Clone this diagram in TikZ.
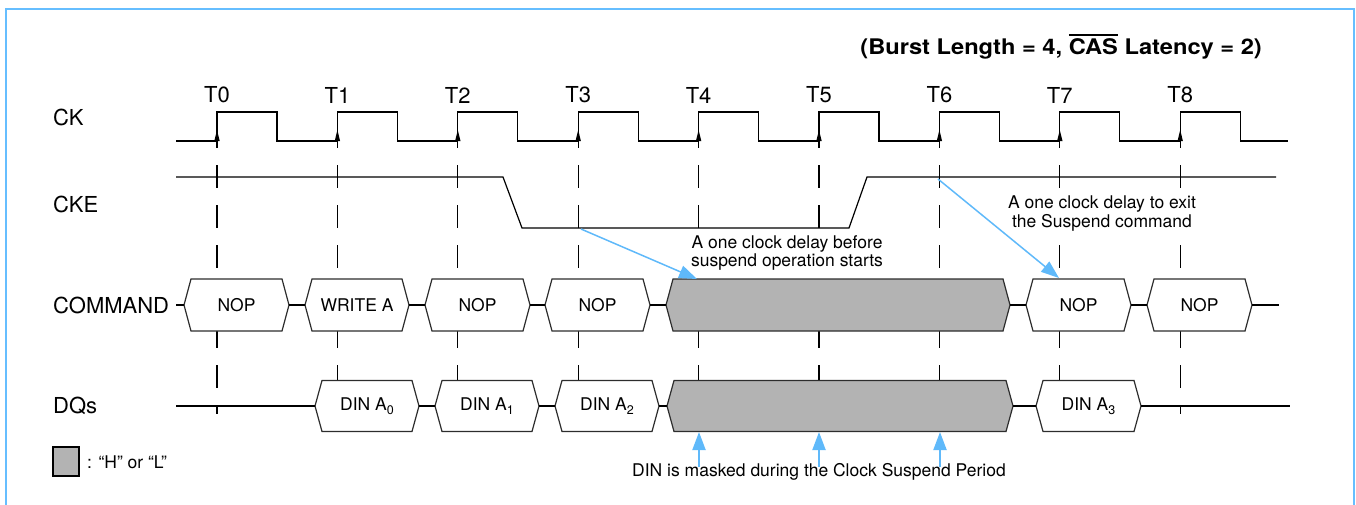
\documentclass[tikz,border=0pt]{standalone}
\usepackage{fontspec}
\setmainfont{TeX Gyre Heros}
\newfontfamily\widefont[FakeStretch=1.1]{TeX Gyre Heros}
\usetikzlibrary{arrows.meta}
\definecolor{framecol}{RGB}{102,190,255}
\definecolor{notecol}{RGB}{95,185,250}
\definecolor{maskgray}{RGB}{179,179,179}
\definecolor{edgecol}{RGB}{45,45,45}
% name, left tip, right tip, centre y, half height, style, text
\newcommand{\busbox}[7]{%
  \path[#6] (#2,#4) -- ({#2+7},{#4-#5}) -- ({#3-7},{#4-#5}) -- (#3,#4)
     -- ({#3-7},{#4+#5}) -- ({#2+7},{#4+#5}) -- cycle;
  \coordinate (#1-l) at (#2,#4);
  \coordinate (#1-r) at (#3,#4);
  \node[boxtext] (#1) at ({(#2+#3)/2},#4) {#7};
}
\newcommand{\dsub}[1]{\raisebox{-4.5pt}{\fontsize{12.5}{13}\selectfont #1}}
\newcommand{\ovl}[1]{\vbox{\hrule height 2pt\kern 2.5pt\hbox{#1}}}
\begin{document}
\begin{tikzpicture}[x=1pt, y=-1pt,
  sig/.style={line width=1.2pt, black},
  guide/.style={line width=1.2pt, black, dash pattern=on 23pt off 17pt},
  lbl/.style={anchor=west, inner sep=0pt, font=\fontsize{22}{24}\selectfont},
  tlbl/.style={inner sep=0pt, font=\fontsize{22}{24}\selectfont},
  boxtext/.style={inner sep=0pt, font=\fontsize{17.5}{20}\selectfont},
  cmdbox/.style={draw=edgecol, fill=white, line width=1.2pt, line join=miter},
  maskbox/.style={draw=edgecol, fill=maskgray, line width=1.2pt, line join=miter},
  note/.style={align=center, fill=white, inner sep=1pt, font=\fontsize{17.5}{18.5}\selectfont},
  notearrow/.style={draw=notecol, line width=1.5pt, -{Triangle[length=18pt,width=13pt]}},
]
\useasboundingbox (0,0) rectangle (1356,504);
% frame
\draw[framecol, line width=2.2pt, line join=miter] (6,510) -- (6,9) -- (1354,9) -- (1354,510);

% title
\node[anchor=east, inner sep=0pt, font=\widefont\bfseries\fontsize{21.5}{24}\selectfont] (title) at (1262,47)
  {(Burst Length = 4, \ovl{CAS} Latency = 2)};

% signal labels
\node[lbl] (lck) at (53,117) {CK};
\node[lbl] (lcke) at (53,204) {CKE};
\node[lbl] (lcmd) at (53,305) {COMMAND};
\node[lbl] (ldq) at (53,406) {DQs};

% clock edge guides
\foreach \i in {0,...,8} {
  \coordinate (gt\i) at ({217+120.4*\i},125);
  \coordinate (gb\i) at ({217+120.4*\i},414);
  \draw[guide] (gt\i) -- (gb\i);
  \node[tlbl] (T\i) at ({217+120.4*\i},95) {T\i};
}

% clock
\draw[sig, line join=miter] (176,141)
  \foreach \i in {0,...,8} { -- ({217+120.4*\i},141) -- ++(0,-29) -- ++(60,0) -- ++(0,29) }
  -- (1288,141);
\foreach \i in {0,...,8}
  \fill ({217+120.4*\i},130) -- ({214.3+120.4*\i},141) -- ({219.7+120.4*\i},141) -- cycle;

% CKE
\draw[sig] (176,177) -- (503,177) -- (522,228) -- (849,228) -- (867,177) -- (1276,177);

% COMMAND bus
\coordinate (cstart) at (176,305);
\coordinate (cend) at (1279,305);
\busbox{c0}{184}{289}{305}{26}{cmdbox}{NOP}
\busbox{c1}{305}{409}{305}{26}{cmdbox}{WRITE A}
\busbox{c2}{425}{530}{305}{26}{cmdbox}{NOP}
\busbox{c3}{545}{650}{305}{26}{cmdbox}{NOP}
\busbox{cG}{666}{1010}{305}{26}{maskbox}{}
\busbox{c7}{1026}{1131}{305}{26}{cmdbox}{NOP}
\busbox{c8}{1147}{1252}{305}{26}{cmdbox}{NOP}
\draw[sig] (cstart) -- (c0-l);
\draw[sig] (c0-r) -- (c1-l);
\draw[sig] (c1-r) -- (c2-l);
\draw[sig] (c2-r) -- (c3-l);
\draw[sig] (c3-r) -- (cG-l);
\draw[sig] (cG-r) -- (c7-l);
\draw[sig] (c7-r) -- (c8-l);
\draw[sig] (c8-r) -- (cend);

% DQ bus
\coordinate (dstart) at (176,406);
\coordinate (dknee) at (1021,406);
\coordinate (dend) at (1290,406);
\busbox{d0}{315}{419}{406}{25.5}{cmdbox}{DIN A\dsub{0}}
\busbox{d1}{435}{539}{406}{25.5}{cmdbox}{DIN A\dsub{1}}
\busbox{d2}{555}{659}{406}{25.5}{cmdbox}{DIN A\dsub{2}}
\busbox{dG}{667}{1013}{406}{25.5}{maskbox}{}
\busbox{d3}{1036}{1141}{406}{25.5}{cmdbox}{DIN A\dsub{3}}
\draw[sig] (dstart) -- (d0-l);
\draw[sig] (d0-r) -- (d1-l);
\draw[sig] (d1-r) -- (d2-l);
\draw[sig, line width=2.2pt] (d2-r) -- (dG-l);
\draw[sig, line width=2.2pt] (dG-r) -- (dknee);
\draw[sig] (dknee) -- (d3-l);
\draw[sig] (d3-r) -- (dend);

% annotations
\node[note] (n1) at (787,253) {A one clock delay before\\suspend operation starts};
\coordinate (a1s) at (581,229);
\coordinate (a1e) at (697,279);
\draw[notearrow] (a1s) -- (a1e);

\node[note] (n2) at (1102,213.5) {A one clock delay to exit\\the Suspend command};
\coordinate (a2s) at (938,179);
\coordinate (a2e) at (1059,278);
\draw[notearrow] (a2s) -- (a2e);

\node[note] (n3) at (819,472) {DIN is masked during the Clock Suspend Period};
\foreach \x [count=\k] in {699,819,940} {
  \coordinate (ms\k) at (\x,467);
  \coordinate (me\k) at (\x,432);
  \draw[notearrow, line width=2pt] (ms\k) -- (me\k);
}

% legend
\node[draw, fill=maskgray, line width=1.2pt, minimum width=26pt, minimum height=29pt, inner sep=0pt] (leg) at (66,461.5) {};
\node[anchor=west, inner sep=0pt, font=\fontsize{17.5}{20}\selectfont] (legt) at (87,462) {: “H” or “L”};
\end{tikzpicture}
\end{document}
